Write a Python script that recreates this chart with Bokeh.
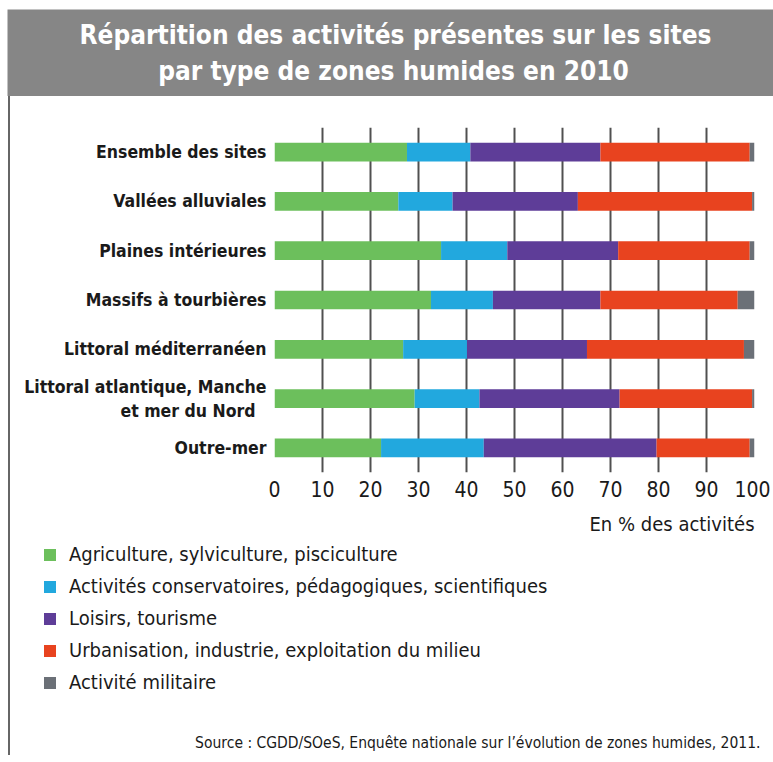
from bokeh.plotting import figure
from bokeh.layouts import column, row
from bokeh.models import (ColumnDataSource, FactorRange, Range1d, FixedTicker,
                          Label, Spacer)
from bokeh.embed import file_html
from bokeh.resources import INLINE

categories = ["Ensemble des sites", "Vallées alluviales", "Plaines intérieures",
              "Massifs à tourbières", "Littoral méditerranéen",
              "Littoral atlantique, Manche\net mer du Nord  ", "Outre-mer"]
agriculture = [27.6, 25.8, 34.7, 32.6, 26.8, 29.2, 22.2]
conservatoires = [13.2, 11.3, 13.8, 12.9, 13.3, 13.5, 21.4]
loisirs = [27.1, 26.1, 23.1, 22.4, 25.0, 29.2, 36.0]
urbanisation = [31.1, 36.3, 27.4, 28.6, 32.7, 27.6, 19.4]
militaire = [1.0, 0.5, 1.0, 3.5, 2.2, 0.5, 1.0]
series_labels = ["Agriculture, sylviculture, pisciculture",
                 "Activités conservatoires, pédagogiques, scientifiques",
                 "Loisirs, tourisme",
                 "Urbanisation, industrie, exploitation du milieu",
                 "Activité militaire"]
x_ticks = [0, 10, 20, 30, 40, 50, 60, 70, 80, 90, 100]
title_lines = ["Répartition des activités présentes sur les sites",
               "par type de zones humides en 2010"]
unit_text = "En % des activités"
source_text = "Source : CGDD/SOeS, Enquête nationale sur l’évolution de zones humides, 2011."

colors = ["#6cbf5c", "#22a8de", "#5e3d98", "#e8431f", "#6b7077"]
keys = ["agri", "cons", "lois", "urb", "mil"]

FONT = "'DejaVu Sans Condensed', 'Roboto Condensed', 'Liberation Sans Narrow', Roboto, sans-serif"
TXT = "#1a1a1a"
GRAY = "#868686"

# ---------------- banner ----------------
BW, BH = 766, 87
banner = figure(width=BW, height=BH, output_backend="svg", toolbar_location=None,
                x_range=Range1d(0, BW), y_range=Range1d(0, BH),
                x_axis_type=None, y_axis_type=None, min_border=0)
banner.outline_line_color = None
banner.background_fill_color = GRAY
banner.border_fill_color = GRAY
for txt, cx, cy in [(title_lines[0], 388, 62), (title_lines[1], 386, 26)]:
    banner.add_layout(Label(x=cx, y=cy, text=txt, text_align="center",
                            text_baseline="middle", text_font=FONT,
                            text_font_style="bold", text_font_size="26px",
                            text_color="white"))

# ---------------- main chart ----------------
source = ColumnDataSource(dict(cat=categories, agri=agriculture, cons=conservatoires,
                               lois=loisirs, urb=urbanisation, mil=militaire))
MW, MH = 760, 409
p = figure(width=MW, height=MH, output_backend="svg", toolbar_location=None,
           y_range=FactorRange(factors=list(reversed(categories)), range_padding=0),
           x_range=Range1d(0, 100),
           min_border_left=264, min_border_right=16,
           min_border_top=31, min_border_bottom=33)
p.outline_line_color = None
p.background_fill_color = "white"
p.border_fill_color = "white"

p.hbar_stack(keys, y="cat", height=0.38, color=colors, line_color=None, source=source)

p.xgrid.ticker = FixedTicker(ticks=x_ticks)
p.xgrid.grid_line_color = "#505050"
p.xgrid.grid_line_width = 2
p.ygrid.grid_line_color = None

p.xaxis.ticker = FixedTicker(ticks=x_ticks)
p.xaxis.axis_line_color = None
p.xaxis.major_tick_line_color = None
p.xaxis.minor_tick_line_color = None
p.xaxis.major_label_standoff = 2
p.xaxis.major_label_text_font = FONT
p.xaxis.major_label_text_font_size = "21px"
p.xaxis.major_label_text_color = TXT

p.yaxis.axis_line_color = None
p.yaxis.major_tick_line_color = None
p.yaxis.minor_tick_line_color = None
p.yaxis.major_label_standoff = 2
p.yaxis.major_label_text_font = FONT
p.yaxis.major_label_text_font_style = "bold"
p.yaxis.major_label_text_font_size = "17.5px"
p.yaxis.major_label_text_color = TXT

# ---------------- legend / notes ----------------
LW, LH = 760, 250
bottom = figure(width=LW, height=LH, output_backend="svg", toolbar_location=None,
                x_range=Range1d(0, LW), y_range=Range1d(0, LH),
                x_axis_type=None, y_axis_type=None, min_border=0)
bottom.outline_line_color = None
bottom.background_fill_color = "white"
bottom.border_fill_color = "white"
# legend proxies (placed outside the visible range; only their swatches show)
for lab, c in zip(series_labels, colors):
    bottom.hbar(y=[-100], left=[0], right=[1], height=1, color=c, line_color=None,
                legend_label=lab)
lg = bottom.legend[0]
lg.location = (32, 61)
lg.orientation = "vertical"
lg.glyph_width = 15
lg.glyph_height = 15
lg.label_height = 20
lg.spacing = 8
lg.label_standoff = 12
lg.padding = 0
lg.margin = 0
lg.border_line_color = None
lg.background_fill_alpha = 0
lg.label_text_font = FONT
lg.label_text_font_size = "20px"
lg.label_text_color = TXT
lg.label_text_baseline = "middle"

bottom.add_layout(Label(x=744, y=232, text=unit_text, text_align="right",
                        text_baseline="middle", text_font=FONT,
                        text_font_size="20px", text_color=TXT))
bottom.add_layout(Label(x=750, y=13, text=source_text, text_align="right",
                        text_baseline="middle", text_font=FONT,
                        text_font_size="15.5px", text_color=TXT))

border1 = Spacer(width=2, height=MH, styles={"background-color": "#666666"})
border2 = Spacer(width=2, height=LH, styles={"background-color": "#666666"})
layout = column(Spacer(width=10, height=9),
                row(Spacer(width=7, height=BH), banner),
                row(Spacer(width=8, height=MH), border1, p),
                row(Spacer(width=8, height=LH), border2, bottom))

open("out.html", "w").write(file_html(layout, INLINE))
